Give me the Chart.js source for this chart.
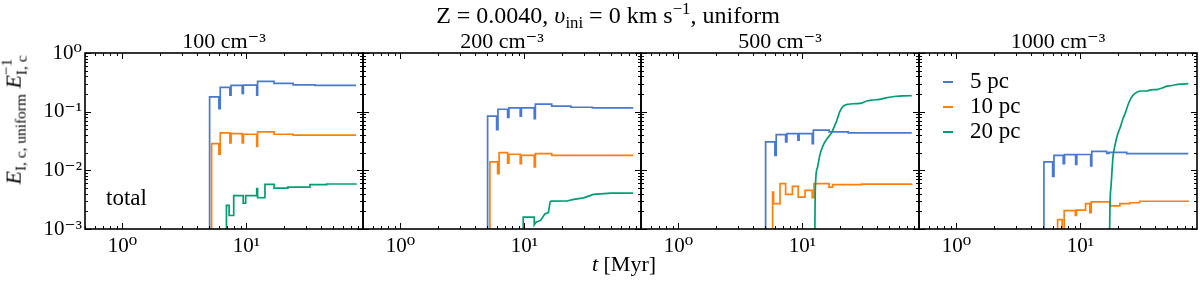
<!DOCTYPE html>
<html><head><meta charset="utf-8">
<script src="https://cdn.jsdelivr.net/npm/chart.js@4.4.1/dist/chart.umd.min.js"></script>
<style>
html,body{margin:0;padding:0;background:#fff;}
#fig{position:relative;width:1200px;height:282px;overflow:hidden;font-family:"Liberation Serif","DejaVu Serif",serif;color:#000;}
#fig canvas{position:absolute;left:0;top:0;}
.txt{position:absolute;white-space:nowrap;font-size:21px;line-height:21px;}
.txt sub{font-size:0.7em;line-height:0;vertical-align:-0.3em;}
.txt sup{font-size:0.7em;line-height:0;vertical-align:0.55em;}
.ss{display:inline-block;vertical-align:-0.4em;font-size:0.7em;line-height:1;}
.ss span{display:block;}
</style></head>
<body><div id="fig">
<canvas id="c0" width="1200" height="282"></canvas>
<canvas id="c1" width="1200" height="282"></canvas>
<canvas id="c2" width="1200" height="282"></canvas>
<canvas id="c3" width="1200" height="282"></canvas>
<div class="txt" style="left:608px;top:5px;font-size:24px;transform:translateX(-50%)">Z = 0.0040, <i>υ</i><sub>ini</sub> = 0 km s<sup>−1</sup>, uniform</div>
<div class="txt" style="left:624px;top:253px;font-size:22px;transform:translateX(-50%)"><i>t</i> [Myr]</div>
<div class="txt" style="left:14px;top:120px;font-size:22px;transform:translate(-50%,-50%) rotate(-90deg)"><i>E</i><sub>I, c, uniform</sub> <i>E</i><span class="ss"><span>−1</span><span>I, c</span></span></div>
<div class="txt" style="left:106px;top:187px;font-size:23px">total</div>
</div>
<script>
// ---------- text / tick labels ----------
const densityLabels = ['100 cm⁻³', '200 cm⁻³', '500 cm⁻³', '1000 cm⁻³'];
const seriesLabels = ['5 pc', '10 pc', '20 pc'];
const seriesColors = ['#4878d0', '#ff7f0e', '#009e73'];
const xMajorTicks = [1, 10];
const xTickLabels = ['10⁰', '10¹'];
const yMajorTicks = [0.001, 0.01, 0.1, 1];
const yTickLabels = ['10⁻³', '10⁻²', '10⁻¹', '10⁰'];

// ---------- data: t [Myr], E ratio ----------
// 100 cm^-3
const n100_5pc_t  = [5.05, 5.05, 6.0, 6.15, 7.36, 7.52, 9.25, 9.45, 12.1, 12.3, 16.7, 23.8, 35.7, 76.4];
const n100_5pc_E  = [1e-5, 0.179, 0.113, 0.259, 0.191, 0.280, 0.205, 0.284, 0.191, 0.328, 0.303, 0.287, 0.280, 0.280];
const n100_10pc_t = [5.24, 5.24, 6.0, 6.15, 7.36, 7.52, 9.25, 9.45, 12.1, 12.3, 16.7, 23.8, 76.4];
const n100_10pc_E = [1e-5, 0.0286, 0.0188, 0.0434, 0.0293, 0.0422, 0.0293, 0.0412, 0.0257, 0.0452, 0.0412, 0.0397, 0.0397];
const n100_20pc_t = [6.9, 6.9, 7.25, 7.9, 9.42, 9.86, 12.1, 12.3, 14.1, 16.7, 21.6, 32.5, 44.3, 76.4];
const n100_20pc_E = [1e-5, 0.00252, 0.0017, 0.00372, 0.00275, 0.00372, 0.00486, 0.00341, 0.00577, 0.00498, 0.00517, 0.0057, 0.00585, 0.00594];
// 200 cm^-3
const n200_5pc_t  = [5.05, 5.05, 5.97, 6.12, 7.32, 7.5, 9.25, 9.45, 12.0, 12.25, 16.6, 23.7, 35.3, 75.4];
const n200_5pc_E  = [1e-5, 0.0838, 0.0495, 0.110, 0.0795, 0.116, 0.0838, 0.116, 0.0764, 0.134, 0.124, 0.119, 0.116, 0.116];
const n200_10pc_t = [5.27, 5.27, 6.08, 6.25, 7.32, 7.5, 9.25, 9.45, 12.0, 12.25, 16.6, 75.4];
const n200_10pc_E = [1e-5, 0.0139, 0.00877, 0.0200, 0.0133, 0.0188, 0.0130, 0.0180, 0.0114, 0.0193, 0.0180, 0.0180];
const n200_20pc_t = [9.78, 9.78, 12.0, 12.0, 12.4, 13.5, 14.6, 15.6, 16.1, 16.4, 22.0, 25.0, 30.0, 36.0, 50.0, 75.4];
const n200_20pc_E = [1e-5, 0.00159, 0.00159, 0.00118, 0.0013, 0.0014, 0.0018, 0.0019, 0.0029, 0.00298, 0.0030, 0.0032, 0.0034, 0.0039, 0.0041, 0.0041];
// 500 cm^-3
const n500_5pc_t  = [5.05, 5.05, 6.0, 6.15, 7.32, 7.5, 9.2, 9.4, 12.0, 12.25, 16.4, 23.4, 76.0];
const n500_5pc_E  = [1e-5, 0.0305, 0.0180, 0.0407, 0.0305, 0.0424, 0.0326, 0.0424, 0.0286, 0.0483, 0.0451, 0.0434, 0.0434];
const n500_10pc_t = [5.75, 5.75, 5.85, 6.6, 7.32, 8.3, 9.25, 10.5, 12.0, 12.4, 16.4, 17.5, 30.0, 76.0];
const n500_10pc_E = [1e-5, 0.00426, 0.0027, 0.00592, 0.00389, 0.00532, 0.0035, 0.00455, 0.00341, 0.00592, 0.00519, 0.0057, 0.0058, 0.00592];
const n500_20pc_t = [12.5, 12.6, 12.8, 13.2, 13.8, 14.5, 15.7, 17.2, 18.2, 18.9, 20.0, 21.5, 23.5, 27.0, 30.0, 33.0, 37.0, 42.0, 47.0, 57.0, 66.0, 76.0];
const n500_20pc_E = [1e-5, 0.001, 0.007, 0.011, 0.018, 0.025, 0.034, 0.044, 0.058, 0.07, 0.1, 0.125, 0.134, 0.137, 0.14, 0.152, 0.158, 0.162, 0.172, 0.183, 0.186, 0.187];
// 1000 cm^-3
const n1000_5pc_t  = [5.08, 5.08, 5.97, 6.12, 7.27, 7.45, 9.15, 9.35, 12.1, 12.35, 16.3, 17.0, 23.6, 74.0];
const n1000_5pc_E  = [1e-5, 0.0139, 0.00789, 0.0180, 0.0130, 0.0185, 0.0126, 0.0186, 0.0119, 0.0211, 0.0195, 0.0202, 0.0193, 0.0193];
const n1000_10pc_t = [6.55, 6.55, 7.12, 7.4, 9.1, 9.3, 11.0, 11.9, 12.2, 17.3, 20.8, 25.0, 30.0, 74.0];
const n1000_10pc_E = [1e-5, 0.00144, 1e-5, 0.00205, 0.0017, 0.0021, 0.0027, 0.0019, 0.0029, 0.00247, 0.0027, 0.0028, 0.00297, 0.00307];
const n1000_20pc_t = [17.1, 17.2, 17.6, 18.3, 19.0, 20.0, 21.0, 22.0, 23.0, 24.0, 25.0, 26.5, 28.5, 31.0, 34.0, 37.0, 42.0, 46.0, 50.0, 56.0, 63.0, 74.0];
const n1000_20pc_E = [1e-5, 0.001, 0.005, 0.017, 0.027, 0.042, 0.055, 0.075, 0.095, 0.125, 0.155, 0.19, 0.215, 0.225, 0.225, 0.235, 0.24, 0.255, 0.272, 0.282, 0.295, 0.3];

const panels = [
  { series: [[n100_5pc_t, n100_5pc_E], [n100_10pc_t, n100_10pc_E], [n100_20pc_t, n100_20pc_E]], smoothGreen: false },
  { series: [[n200_5pc_t, n200_5pc_E], [n200_10pc_t, n200_10pc_E], [n200_20pc_t, n200_20pc_E]], smoothGreen: true },
  { series: [[n500_5pc_t, n500_5pc_E], [n500_10pc_t, n500_10pc_E], [n500_20pc_t, n500_20pc_E]], smoothGreen: true },
  { series: [[n1000_5pc_t, n1000_5pc_E], [n1000_10pc_t, n1000_10pc_E], [n1000_20pc_t, n1000_20pc_E]], smoothGreen: true },
];

// ---------- layout ----------
const FONT = "'Liberation Serif', 'DejaVu Serif', serif";
const FIG_W = 1200, FIG_H = 282;
const PANEL_X0 = 85, PANEL_W = 278, AREA_BOTTOM = 229;

const framePlugin = {
  id: 'frame',
  afterDatasetsDraw(chart) {
    const { ctx, chartArea: a, scales: { x, y } } = chart;
    ctx.save();
    ctx.strokeStyle = '#000';
    ctx.lineWidth = 1;
    ctx.beginPath();
    for (let d = -1; d <= 1; d++) {
      for (let m = 1; m <= 9; m++) {
        const v = m * Math.pow(10, d);
        if (v < x.min || v > x.max) continue;
        const px = Math.round(x.getPixelForValue(v)) + 0.5;
        const L = m === 1 ? 6 : 3;
        ctx.moveTo(px, a.bottom); ctx.lineTo(px, a.bottom - L);
        ctx.moveTo(px, a.top); ctx.lineTo(px, a.top + L);
      }
    }
    for (let d = -3; d <= 0; d++) {
      for (let m = 1; m <= 9; m++) {
        const v = m * Math.pow(10, d);
        if (v < y.min * 0.999 || v > y.max * 1.001) continue;
        const py = Math.round(y.getPixelForValue(v)) + 0.5;
        const L = m === 1 ? 6 : 3;
        ctx.moveTo(a.left, py); ctx.lineTo(a.left + L, py);
        ctx.moveTo(a.right, py); ctx.lineTo(a.right - L, py);
      }
    }
    ctx.stroke();
    ctx.lineWidth = 1.6;
    ctx.strokeRect(a.left, a.top, a.right - a.left, a.bottom - a.top);
    ctx.restore();
  }
};

const legendPlugin = {
  id: 'pcLegend',
  afterDraw(chart) {
    const { ctx, chartArea: a } = chart;
    ctx.save();
    ctx.font = '23px ' + FONT;
    ctx.textBaseline = 'middle';
    ctx.textAlign = 'left';
    seriesLabels.forEach((lab, i) => {
      const ds = chart.data.datasets[i];
      const yy = a.top + 29 + 25 * i;
      ctx.strokeStyle = ds.borderColor;
      ctx.lineWidth = 2;
      ctx.beginPath();
      ctx.moveTo(a.left + 24, yy); ctx.lineTo(a.left + 34, yy);
      ctx.stroke();
      ctx.fillStyle = '#000';
      ctx.fillText(ds.label, a.left + 51, yy);
    });
    ctx.restore();
  }
};

function makePanel(idx) {
  const left = PANEL_X0 + idx * PANEL_W;
  const right = left + PANEL_W;
  const p = panels[idx];
  const datasets = p.series.map(([ts, es], k) => {
    const smooth = (k === 2 && p.smoothGreen);
    return {
      label: seriesLabels[k],
      data: ts.map((t, i) => ({ x: t, y: es[i] })),
      borderColor: seriesColors[k],
      backgroundColor: seriesColors[k],
      borderWidth: 1.7,
      pointRadius: 0,
      fill: false,
      stepped: smooth ? false : true,
      cubicInterpolationMode: (smooth && idx >= 2) ? 'monotone' : 'default',
      tension: 0,
      order: 3 - k,
    };
  });
  const tickFont = { family: FONT, size: 21, weight: 'normal', lineHeight: 1.2 };
  return new Chart(document.getElementById('c' + idx), {
    type: 'line',
    data: { datasets },
    options: {
      responsive: false, animation: false, devicePixelRatio: 1,
      events: [],
      layout: { padding: { left: idx === 0 ? 0 : left, right: FIG_W - right, top: 0, bottom: 0 } },
      plugins: {
        legend: { display: false },
        tooltip: { enabled: false },
        title: {
          display: true, text: densityLabels[idx], fullSize: false, color: '#000',
          font: { family: FONT, size: 22, weight: 'normal', lineHeight: 1.0 },
          padding: { top: 31, bottom: 0 }
        }
      },
      scales: {
        x: {
          type: 'logarithmic', min: 0.5, max: 87, bounds: 'data',
          grid: { display: false, drawTicks: false }, border: { display: false },
          afterBuildTicks: s => { s.ticks = xMajorTicks.map(v => ({ value: v })); },
          afterFit: s => { s.height = FIG_H - AREA_BOTTOM; },
          ticks: { callback: (v, i) => xTickLabels[i], color: '#000', font: tickFont, padding: 5, maxRotation: 0, autoSkip: false }
        },
        y: {
          type: 'logarithmic', min: 1e-3, max: 1, bounds: 'data', display: idx === 0,
          grid: { display: false, drawTicks: false }, border: { display: false },
          afterBuildTicks: s => { s.ticks = yMajorTicks.map(v => ({ value: v })); },
          afterFit: s => { s.width = idx === 0 ? PANEL_X0 : 0; },
          ticks: { callback: (v, i) => yTickLabels[i], color: '#000', font: tickFont, padding: 3, autoSkip: false }
        }
      }
    },
    plugins: idx === 3 ? [framePlugin, legendPlugin] : [framePlugin]
  });
}
for (let i = 0; i < 4; i++) makePanel(i);
</script>
</body></html>
